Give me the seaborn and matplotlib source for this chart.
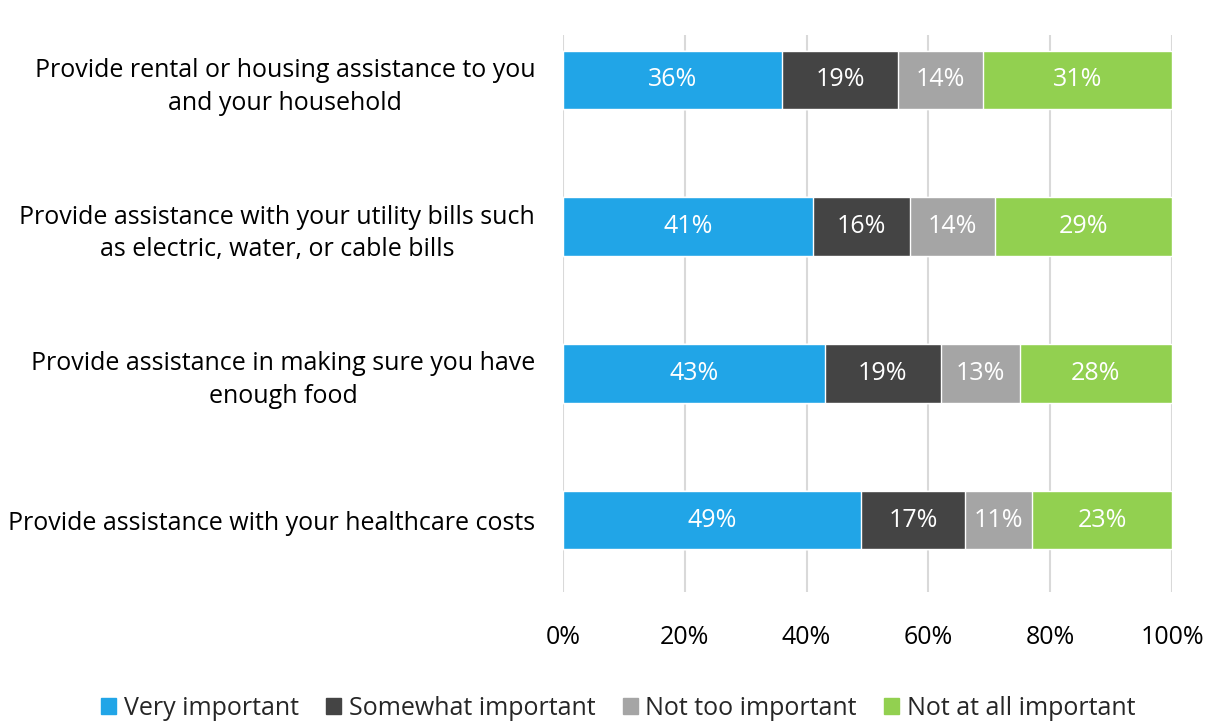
import numpy as np
import pandas as pd
import matplotlib
matplotlib.use("Agg")
import matplotlib.pyplot as plt
import seaborn as sns

# data (percent)
categories = [
    "Provide rental or housing assistance to you\nand your household",
    "Provide assistance with your utility bills such\nas electric, water, or cable bills",
    "Provide assistance in making sure you have\nenough food",
    "Provide assistance with your healthcare costs",
]
series = ["Very important", "Somewhat important", "Not too important", "Not at all important"]
very_important = [36, 41, 43, 49]
somewhat_important = [19, 16, 19, 17]
not_too_important = [14, 14, 13, 11]
not_at_all_important = [31, 29, 25, 23]
# printed labels (the food row's green label reads 28% in the source)
not_at_all_labels = [31, 29, 28, 23]
colors = ["#21A5E7", "#444444", "#A5A5A5", "#92D050"]

df = pd.DataFrame(
    {
        "category": categories,
        series[0]: very_important,
        series[1]: somewhat_important,
        series[2]: not_too_important,
        series[3]: not_at_all_important,
    }
)
label_df = df.copy()
label_df[series[3]] = not_at_all_labels

sns.set_theme(style="white")
plt.rcParams["font.family"] = ["Open Sans", "DejaVu Sans"]

fig = plt.figure(figsize=(12.12, 7.25), dpi=100)
ax = fig.add_axes([0.4645, 0.1834, 0.5025, 0.7683])

# stacked bars: draw cumulative totals from the last series back to the first
cum = df[series].cumsum(axis=1)
for i in reversed(range(len(series))):
    sns.barplot(
        x=cum[series[i]],
        y=df["category"],
        orient="h",
        color=colors[i],
        width=0.4,
        saturation=1,
        ax=ax,
        zorder=2,
    )

# value labels centred in each segment
starts = cum - df[series]
for r in range(len(categories)):
    for i, s in enumerate(series):
        mid = starts.loc[r, s] + df.loc[r, s] / 2
        ax.text(mid, r, f"{label_df.loc[r, s]}%", ha="center", va="center",
                color="white", fontsize=18)

ax.set_xlim(0, 100)
ax.set_ylim(3.49, -0.306)
ax.set_xticks(np.arange(0, 101, 20))
ax.set_xticklabels([f"{v}%" for v in range(0, 101, 20)])
ax.set_xlabel("")
ax.set_ylabel("")
ax.xaxis.grid(True, color="#D9D9D9", linewidth=1.5, zorder=0)
ax.set_axisbelow(True)
for sp in ax.spines.values():
    sp.set_visible(False)
ax.tick_params(axis="x", length=0, pad=24, labelsize=18, labelcolor="#000000")
ax.tick_params(axis="y", length=0, pad=20, labelsize=18, labelcolor="#000000")
for t in ax.get_yticklabels():
    t.set_multialignment("center")
    t.set_linespacing(1.4)

handles = [plt.Rectangle((0, 0), 1, 1, color=c) for c in colors]
fig.legend(handles, series, loc="lower center", bbox_to_anchor=(0.51, -0.025),
           ncol=4, frameon=False, fontsize=18, handlelength=0.6,
           handleheight=0.6, handletextpad=0.3, columnspacing=1.1)

fig.savefig("out.png", dpi=100)
